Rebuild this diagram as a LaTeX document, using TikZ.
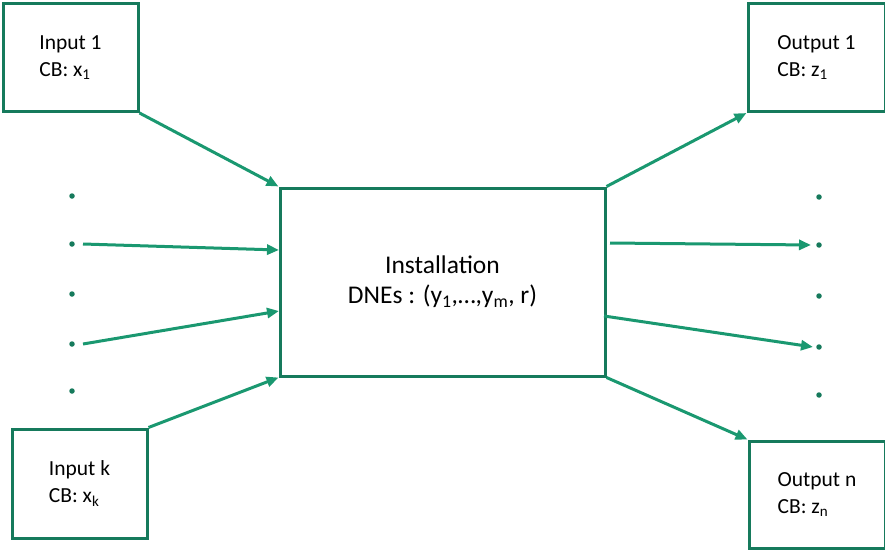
\documentclass[tikz,border=0pt]{standalone}
\usepackage{fontspec}
\setmainfont{Carlito}
\usetikzlibrary{arrows.meta}
\definecolor{boxgreen}{RGB}{22,122,92}
\definecolor{arrgreen}{RGB}{26,152,112}
\tikzset{
  box/.style={draw=boxgreen, line width=3pt, inner sep=0pt, align=left, font=\fontsize{21.5}{27}\selectfont},
  conn/.style={draw=arrgreen, line width=3pt, -{Triangle[length=12pt,width=10pt]}},
  dotmark/.style={circle, fill=boxgreen, inner sep=0pt, minimum size=5.5pt}
}
\begin{document}
\begin{tikzpicture}[x=1pt,y=-1pt]
\useasboundingbox (0,0) rectangle (885,551);
\node[box, minimum width=135pt, minimum height=108pt] (in1) at (70.5,57.5) {Input 1\\CB: x\textsubscript{1}};
\node[box, minimum width=135pt, minimum height=109pt] (ink) at (79.5,483.5) {Input k\\CB: x\textsubscript{k}};
\node[box, minimum width=137pt, minimum height=108pt] (out1) at (816.5,57.5) {Output 1\\CB: z\textsubscript{1}};
\node[box, minimum width=136pt, minimum height=107pt] (outn) at (817,494.5) {Output n\\CB: z\textsubscript{n}};
\node[box, align=center, minimum width=325pt, minimum height=188pt, font=\fontsize{25.5}{30}\selectfont] (c) at (442.5,282) {Installation\\DNEs : (y\textsubscript{1},…,y\textsubscript{m}, r)};
% dots
\foreach \i/\y in {1/196,2/244,3/294,4/344,5/391} {\node[dotmark] (ld\i) at (72,\y) {};}
\foreach \i/\y in {1/197,2/245,3/296,4/347,5/395} {\node[dotmark] (rd\i) at (819,\y) {};}
% arrow coordinates
\coordinate (la1) at (83,244);
\coordinate (lb1) at (279,250);
\coordinate (la2) at (83,344);
\coordinate (lb2) at (279,311);
\coordinate (ra1) at (610,243);
\coordinate (rb1) at (811,245);
\coordinate (ra2) at (604,316);
\coordinate (rb2) at (813,347);
\draw[conn] (in1.south east) -- (c.north west);
\draw[conn] (ink.north east) -- (c.south west);
\draw[conn] (c.north east) -- (out1.south west);
\draw[conn] (c.south east) -- (outn.north west);
\draw[conn] (la1) -- (lb1);
\draw[conn] (la2) -- (lb2);
\draw[conn] (ra1) -- (rb1);
\draw[conn] (ra2) -- (rb2);
\end{tikzpicture}
\end{document}
